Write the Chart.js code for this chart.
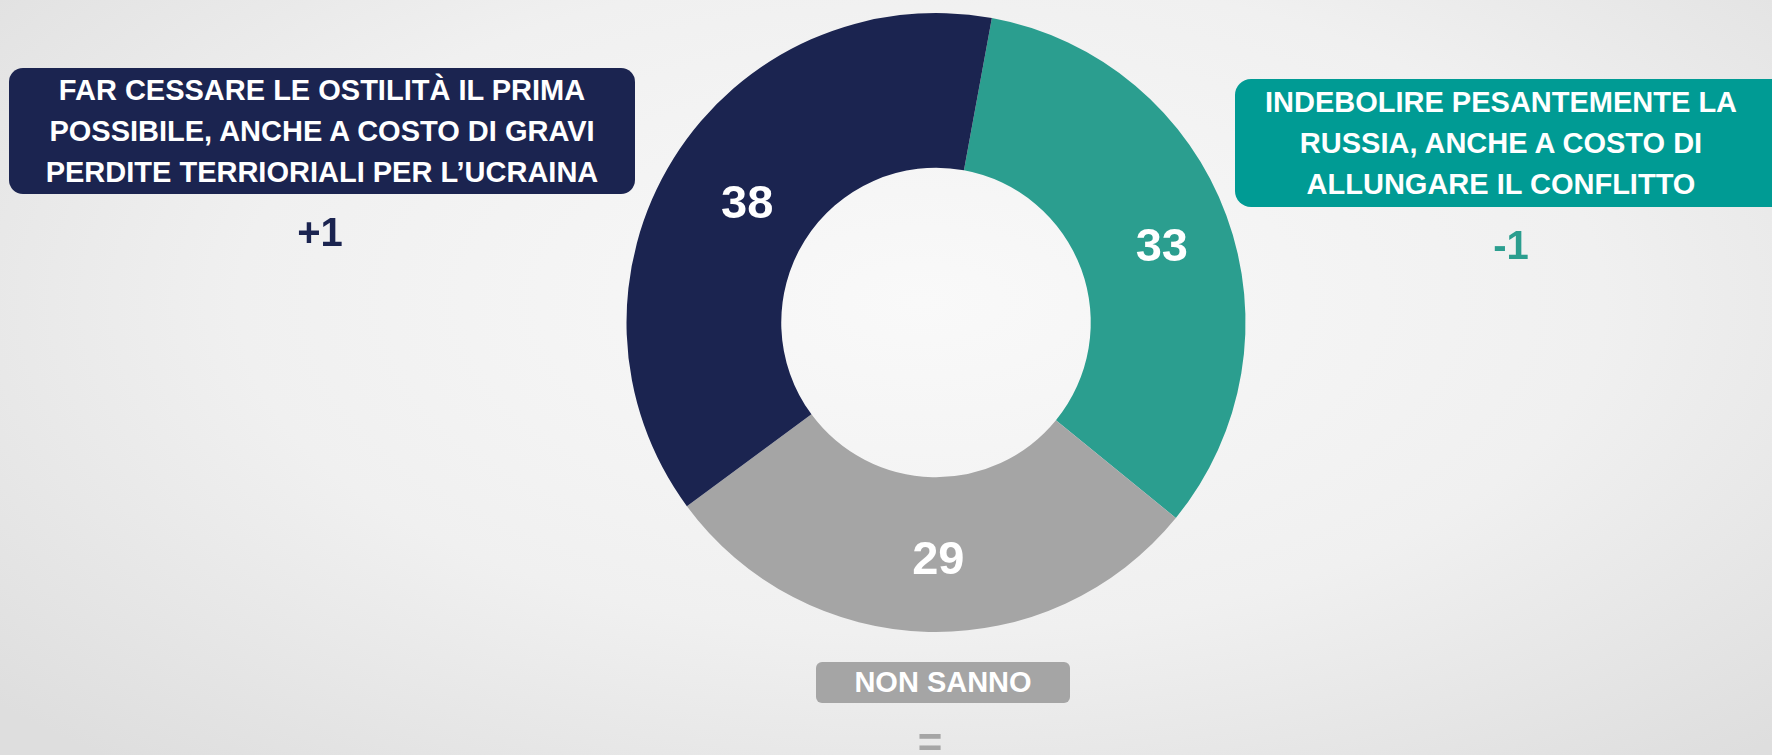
<!DOCTYPE html>
<html lang="it">
  <head>
    <meta charset="UTF-8" />
    <title>Ucraina - priorità</title>
    <script src="https://cdn.jsdelivr.net/npm/chart.js"></script>
    <style>
      html, body {
        margin: 0;
        width: 1772px;
        height: 755px;
        overflow: hidden;
        font-family: "Liberation Sans", Arial, sans-serif;
      }
      body {
        position: relative;
        background: radial-gradient(ellipse 70% 80% at 52% 40%, #f9f9f9 0%, #f0f0f0 55%, #dedede 100%);
      }
      #wrap { position: absolute; left: 0; top: 0; width: 1772px; height: 755px; }
      .box {
        position: absolute;
        color: #fff;
        font-weight: bold;
        font-size: 29px;
        line-height: 41px;
        text-align: center;
        display: flex;
        align-items: center;
        justify-content: center;
        box-sizing: border-box;
      }
      .delta {
        position: absolute;
        font-weight: bold;
        font-size: 40px;
        transform: translate(-50%, -50%);
      }
    </style>
  </head>
  <body>
    <div id="wrap"><canvas id="myChart"></canvas></div>

    <div id="box0" class="box" style="left:1235px;top:79px;width:560px;height:128px;border-radius:16px;padding-right:28px;"></div>
    <div id="box1" class="box" style="left:816px;top:662px;width:254px;height:41px;border-radius:6px;"></div>
    <div id="box2" class="box" style="left:9px;top:68px;width:626px;height:126px;border-radius:14px;"></div>

    <div id="d0" class="delta" style="left:1511px;top:245px;"></div>
    <div id="d1" class="delta" style="left:930px;top:743px;font-size:42px;"></div>
    <div id="d2" class="delta" style="left:320px;top:232px;"></div>

    <script>
      // data, clockwise from the top
      const categories = [
        ["INDEBOLIRE PESANTEMENTE LA", "RUSSIA, ANCHE A COSTO DI", "ALLUNGARE IL CONFLITTO"],
        ["NON SANNO"],
        ["FAR CESSARE LE OSTILITÀ IL PRIMA", "POSSIBILE, ANCHE A COSTO DI GRAVI", "PERDITE TERRIORIALI PER L’UCRAINA"],
      ];
      const values = [33, 29, 38];
      const deltas = ["-1", "=", "+1"];

      const sliceColors = ["#2b9e8f", "#a5a5a5", "#1b2450"];
      const boxColors = ["#009b94", "#a5a5a5", "#1b2450"];
      const deltaColors = ["#2b9e8f", "#a5a5a5", "#1b2450"];

      categories.forEach((lines, i) => {
        const box = document.getElementById("box" + i);
        box.innerHTML = lines.join("<br>");
        box.style.background = boxColors[i];
        const d = document.getElementById("d" + i);
        d.textContent = deltas[i];
        d.style.color = deltaColors[i];
      });

      // value labels in the middle of each slice
      const valueLabels = {
        id: "valueLabels",
        afterDatasetsDraw(chart) {
          const ctx = chart.ctx;
          const meta = chart.getDatasetMeta(0);
          ctx.save();
          ctx.fillStyle = "#ffffff";
          ctx.font = "bold 47px 'Liberation Sans', Arial, sans-serif";
          ctx.textAlign = "center";
          ctx.textBaseline = "middle";
          meta.data.forEach((arc, i) => {
            const p = arc.tooltipPosition();
            ctx.fillText(String(values[i]), p.x + 8, p.y + 6);
          });
          ctx.restore();
        },
      };

      new Chart(document.getElementById("myChart"), {
        type: "doughnut",
        data: {
          labels: categories.map((l) => l.join(" ")),
          datasets: [
            {
              data: values,
              backgroundColor: sliceColors,
              borderWidth: 0,
            },
          ],
        },
        options: {
          responsive: true,
          maintainAspectRatio: false,
          animation: false,
          rotation: 10.4,
          cutout: "50%",
          layout: { padding: { top: 13, bottom: 123, left: 100, right: 0 } },
          plugins: {
            legend: { display: false },
            tooltip: { enabled: false },
          },
        },
        plugins: [valueLabels],
      });
    </script>
  </body>
</html>
